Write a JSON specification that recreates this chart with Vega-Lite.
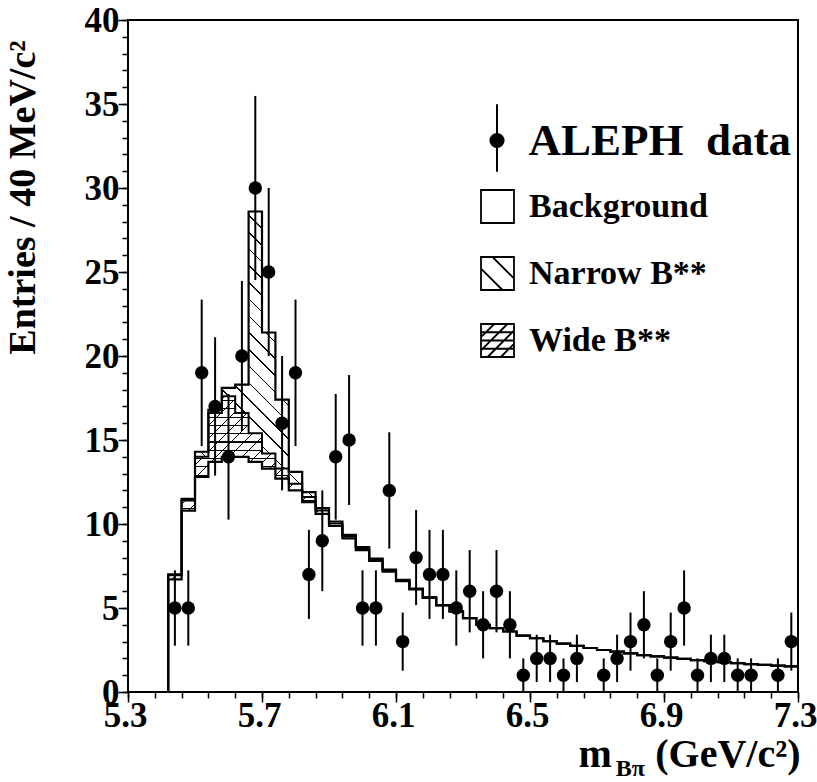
{
  "$schema": "https://vega.github.io/schema/vega-lite/v6.json",
  "width": 670,
  "height": 672,
  "autosize": {"type": "none"},
  "padding": {"left": 128, "top": 20, "right": 19, "bottom": 90},
  "background": "white",
  "config": {"view": {"stroke": "black", "strokeWidth": 2}, "font": "Liberation Serif"},
  "title": {"text": "Bπ", "orient": "bottom", "anchor": "end", "frame": "group", "offset": 0, "dx": -153, "dy": -17, "font": "Liberation Serif", "fontSize": 24, "fontWeight": "bold", "color": "black"},
  "resolve": {"scale": {"shape": "independent"}, "axis": {"x": "independent", "y": "independent"}},
  "datasets": {
    "hist": [
      {"x": 5.3, "bkg": 0, "wtop": 0, "tot": 0},
      {"x": 5.42, "bkg": 6.7, "wtop": 6.95, "tot": 7.0},
      {"x": 5.46, "bkg": 10.8, "wtop": 11.4, "tot": 11.5},
      {"x": 5.5, "bkg": 12.8, "wtop": 14.0, "tot": 14.3},
      {"x": 5.54, "bkg": 13.7, "wtop": 16.6, "tot": 16.8},
      {"x": 5.58, "bkg": 14.0, "wtop": 17.6, "tot": 18.1},
      {"x": 5.62, "bkg": 14.0, "wtop": 16.6, "tot": 18.3},
      {"x": 5.66, "bkg": 13.7, "wtop": 15.4, "tot": 28.6},
      {"x": 5.7, "bkg": 13.3, "wtop": 14.2, "tot": 21.4},
      {"x": 5.74, "bkg": 12.7, "wtop": 13.3, "tot": 17.4},
      {"x": 5.78, "bkg": 12.0, "wtop": 12.4, "tot": 13.1},
      {"x": 5.82, "bkg": 11.3, "wtop": 11.6, "tot": 11.9},
      {"x": 5.86, "bkg": 10.6, "wtop": 10.8, "tot": 10.95},
      {"x": 5.9, "bkg": 9.88, "wtop": 10.03, "tot": 10.15},
      {"x": 5.94, "bkg": 9.15, "wtop": 9.27, "tot": 9.35},
      {"x": 5.98, "bkg": 8.45, "wtop": 8.55, "tot": 8.63},
      {"x": 6.02, "bkg": 7.8, "wtop": 7.88, "tot": 7.94},
      {"x": 6.06, "bkg": 7.16, "wtop": 7.23, "tot": 7.28},
      {"x": 6.1, "bkg": 6.6, "wtop": 6.65, "tot": 6.68},
      {"x": 6.14, "bkg": 6.1, "wtop": 6.13, "tot": 6.15},
      {"x": 6.18, "bkg": 5.6, "wtop": 5.62, "tot": 5.63},
      {"x": 6.22, "bkg": 5.15, "wtop": 5.17, "tot": 5.18},
      {"x": 6.26, "bkg": 4.8, "wtop": 4.8, "tot": 4.8},
      {"x": 6.3, "bkg": 4.4, "wtop": 4.4, "tot": 4.4},
      {"x": 6.34, "bkg": 4.0, "wtop": 4.0, "tot": 4.0},
      {"x": 6.38, "bkg": 3.8, "wtop": 3.8, "tot": 3.8},
      {"x": 6.42, "bkg": 3.6, "wtop": 3.6, "tot": 3.6},
      {"x": 6.46, "bkg": 3.35, "wtop": 3.35, "tot": 3.35},
      {"x": 6.5, "bkg": 3.2, "wtop": 3.2, "tot": 3.2},
      {"x": 6.54, "bkg": 3.02, "wtop": 3.02, "tot": 3.02},
      {"x": 6.58, "bkg": 2.88, "wtop": 2.88, "tot": 2.88},
      {"x": 6.62, "bkg": 2.75, "wtop": 2.75, "tot": 2.75},
      {"x": 6.66, "bkg": 2.62, "wtop": 2.62, "tot": 2.62},
      {"x": 6.7, "bkg": 2.5, "wtop": 2.5, "tot": 2.5},
      {"x": 6.74, "bkg": 2.4, "wtop": 2.4, "tot": 2.4},
      {"x": 6.78, "bkg": 2.3, "wtop": 2.3, "tot": 2.3},
      {"x": 6.82, "bkg": 2.2, "wtop": 2.2, "tot": 2.2},
      {"x": 6.86, "bkg": 2.12, "wtop": 2.12, "tot": 2.12},
      {"x": 6.9, "bkg": 2.05, "wtop": 2.05, "tot": 2.05},
      {"x": 6.94, "bkg": 1.97, "wtop": 1.97, "tot": 1.97},
      {"x": 6.98, "bkg": 1.9, "wtop": 1.9, "tot": 1.9},
      {"x": 7.02, "bkg": 1.84, "wtop": 1.84, "tot": 1.84},
      {"x": 7.06, "bkg": 1.78, "wtop": 1.78, "tot": 1.78},
      {"x": 7.1, "bkg": 1.72, "wtop": 1.72, "tot": 1.72},
      {"x": 7.14, "bkg": 1.66, "wtop": 1.66, "tot": 1.66},
      {"x": 7.18, "bkg": 1.61, "wtop": 1.61, "tot": 1.61},
      {"x": 7.22, "bkg": 1.57, "wtop": 1.57, "tot": 1.57},
      {"x": 7.26, "bkg": 1.53, "wtop": 1.53, "tot": 1.53},
      {"x": 7.3, "bkg": 1.53, "wtop": 1.53, "tot": 1.53}
    ],
    "pts": [
      {"m": 5.44, "n": 5, "lo": 2.76, "hi": 7.24},
      {"m": 5.48, "n": 5, "lo": 2.76, "hi": 7.24},
      {"m": 5.52, "n": 19, "lo": 14.64, "hi": 23.36},
      {"m": 5.56, "n": 17, "lo": 12.88, "hi": 21.12},
      {"m": 5.6, "n": 14, "lo": 10.26, "hi": 17.74},
      {"m": 5.64, "n": 20, "lo": 15.53, "hi": 24.47},
      {"m": 5.68, "n": 30, "lo": 24.52, "hi": 35.48},
      {"m": 5.72, "n": 25, "lo": 20, "hi": 30},
      {"m": 5.76, "n": 16, "lo": 12, "hi": 20},
      {"m": 5.8, "n": 19, "lo": 14.64, "hi": 23.36},
      {"m": 5.84, "n": 7, "lo": 4.35, "hi": 9.65},
      {"m": 5.88, "n": 9, "lo": 6, "hi": 12},
      {"m": 5.92, "n": 14, "lo": 10.26, "hi": 17.74},
      {"m": 5.96, "n": 15, "lo": 11.13, "hi": 18.87},
      {"m": 6.0, "n": 5, "lo": 2.76, "hi": 7.24},
      {"m": 6.04, "n": 5, "lo": 2.76, "hi": 7.24},
      {"m": 6.08, "n": 12, "lo": 8.54, "hi": 15.46},
      {"m": 6.12, "n": 3, "lo": 1.27, "hi": 4.73},
      {"m": 6.16, "n": 8, "lo": 5.17, "hi": 10.83},
      {"m": 6.2, "n": 7, "lo": 4.35, "hi": 9.65},
      {"m": 6.24, "n": 7, "lo": 4.35, "hi": 9.65},
      {"m": 6.28, "n": 5, "lo": 2.76, "hi": 7.24},
      {"m": 6.32, "n": 6, "lo": 3.55, "hi": 8.45},
      {"m": 6.36, "n": 4, "lo": 2, "hi": 6},
      {"m": 6.4, "n": 6, "lo": 3.55, "hi": 8.45},
      {"m": 6.44, "n": 4, "lo": 2, "hi": 6},
      {"m": 6.48, "n": 1, "lo": 0, "hi": 2},
      {"m": 6.52, "n": 2, "lo": 0.59, "hi": 3.41},
      {"m": 6.56, "n": 2, "lo": 0.59, "hi": 3.41},
      {"m": 6.6, "n": 1, "lo": 0, "hi": 2},
      {"m": 6.64, "n": 2, "lo": 0.59, "hi": 3.41},
      {"m": 6.72, "n": 1, "lo": 0, "hi": 2},
      {"m": 6.76, "n": 2, "lo": 0.59, "hi": 3.41},
      {"m": 6.8, "n": 3, "lo": 1.27, "hi": 4.73},
      {"m": 6.84, "n": 4, "lo": 2, "hi": 6},
      {"m": 6.88, "n": 1, "lo": 0, "hi": 2},
      {"m": 6.92, "n": 3, "lo": 1.27, "hi": 4.73},
      {"m": 6.96, "n": 5, "lo": 2.76, "hi": 7.24},
      {"m": 7.0, "n": 1, "lo": 0, "hi": 2},
      {"m": 7.04, "n": 2, "lo": 0.59, "hi": 3.41},
      {"m": 7.08, "n": 2, "lo": 0.59, "hi": 3.41},
      {"m": 7.12, "n": 1, "lo": 0, "hi": 2},
      {"m": 7.16, "n": 1, "lo": 0, "hi": 2},
      {"m": 7.24, "n": 1, "lo": 0, "hi": 2},
      {"m": 7.28, "n": 3, "lo": 1.27, "hi": 4.73}
    ]
  },
  "layer": [
    {
      "data": {"name": "hist"},
      "transform": [{"filter": "datum.x >= 5.42 && datum.x <= 5.9"}],
      "mark": {"type": "area", "interpolate": "step-after", "opacity": 1, "fillOpacity": 1,
        "fill": {"gradient": "linear", "x1": 0, "y1": 1, "x2": 1, "y2": -1.262, "stops": [
          {"offset": 0.005, "color": "#fff"}, {"offset": 0.005, "color": "#000"}, {"offset": 0.0066, "color": "#000"}, {"offset": 0.0066, "color": "#fff"},
          {"offset": 0.022, "color": "#fff"}, {"offset": 0.022, "color": "#000"}, {"offset": 0.0236, "color": "#000"}, {"offset": 0.0236, "color": "#fff"},
          {"offset": 0.039, "color": "#fff"}, {"offset": 0.039, "color": "#000"}, {"offset": 0.0406, "color": "#000"}, {"offset": 0.0406, "color": "#fff"},
          {"offset": 0.056, "color": "#fff"}, {"offset": 0.056, "color": "#000"}, {"offset": 0.0576, "color": "#000"}, {"offset": 0.0576, "color": "#fff"},
          {"offset": 0.073, "color": "#fff"}, {"offset": 0.073, "color": "#000"}, {"offset": 0.0746, "color": "#000"}, {"offset": 0.0746, "color": "#fff"},
          {"offset": 0.09, "color": "#fff"}, {"offset": 0.09, "color": "#000"}, {"offset": 0.0916, "color": "#000"}, {"offset": 0.0916, "color": "#fff"},
          {"offset": 0.107, "color": "#fff"}, {"offset": 0.107, "color": "#000"}, {"offset": 0.1086, "color": "#000"}, {"offset": 0.1086, "color": "#fff"},
          {"offset": 0.124, "color": "#fff"}, {"offset": 0.124, "color": "#000"}, {"offset": 0.1256, "color": "#000"}, {"offset": 0.1256, "color": "#fff"},
          {"offset": 0.141, "color": "#fff"}, {"offset": 0.141, "color": "#000"}, {"offset": 0.1426, "color": "#000"}, {"offset": 0.1426, "color": "#fff"},
          {"offset": 0.158, "color": "#fff"}, {"offset": 0.158, "color": "#000"}, {"offset": 0.1596, "color": "#000"}, {"offset": 0.1596, "color": "#fff"},
          {"offset": 0.175, "color": "#fff"}, {"offset": 0.175, "color": "#000"}, {"offset": 0.1766, "color": "#000"}, {"offset": 0.1766, "color": "#fff"},
          {"offset": 0.192, "color": "#fff"}, {"offset": 0.192, "color": "#000"}, {"offset": 0.1936, "color": "#000"}, {"offset": 0.1936, "color": "#fff"},
          {"offset": 0.209, "color": "#fff"}, {"offset": 0.209, "color": "#000"}, {"offset": 0.2106, "color": "#000"}, {"offset": 0.2106, "color": "#fff"},
          {"offset": 0.226, "color": "#fff"}, {"offset": 0.226, "color": "#000"}, {"offset": 0.2276, "color": "#000"}, {"offset": 0.2276, "color": "#fff"},
          {"offset": 0.243, "color": "#fff"}, {"offset": 0.243, "color": "#000"}, {"offset": 0.2446, "color": "#000"}, {"offset": 0.2446, "color": "#fff"},
          {"offset": 0.26, "color": "#fff"}, {"offset": 0.26, "color": "#000"}, {"offset": 0.2616, "color": "#000"}, {"offset": 0.2616, "color": "#fff"},
          {"offset": 0.277, "color": "#fff"}, {"offset": 0.277, "color": "#000"}, {"offset": 0.2786, "color": "#000"}, {"offset": 0.2786, "color": "#fff"},
          {"offset": 0.294, "color": "#fff"}, {"offset": 0.294, "color": "#000"}, {"offset": 0.2956, "color": "#000"}, {"offset": 0.2956, "color": "#fff"},
          {"offset": 0.311, "color": "#fff"}, {"offset": 0.311, "color": "#000"}, {"offset": 0.3126, "color": "#000"}, {"offset": 0.3126, "color": "#fff"},
          {"offset": 0.328, "color": "#fff"}, {"offset": 0.328, "color": "#000"}, {"offset": 0.3296, "color": "#000"}, {"offset": 0.3296, "color": "#fff"},
          {"offset": 0.345, "color": "#fff"}, {"offset": 0.345, "color": "#000"}, {"offset": 0.3466, "color": "#000"}, {"offset": 0.3466, "color": "#fff"},
          {"offset": 0.362, "color": "#fff"}, {"offset": 0.362, "color": "#000"}, {"offset": 0.3636, "color": "#000"}, {"offset": 0.3636, "color": "#fff"},
          {"offset": 0.379, "color": "#fff"}, {"offset": 0.379, "color": "#000"}, {"offset": 0.3806, "color": "#000"}, {"offset": 0.3806, "color": "#fff"},
          {"offset": 0.396, "color": "#fff"}, {"offset": 0.396, "color": "#000"}, {"offset": 0.3976, "color": "#000"}, {"offset": 0.3976, "color": "#fff"},
          {"offset": 0.413, "color": "#fff"}, {"offset": 0.413, "color": "#000"}, {"offset": 0.4146, "color": "#000"}, {"offset": 0.4146, "color": "#fff"},
          {"offset": 0.43, "color": "#fff"}, {"offset": 0.43, "color": "#000"}, {"offset": 0.4316, "color": "#000"}, {"offset": 0.4316, "color": "#fff"},
          {"offset": 0.447, "color": "#fff"}, {"offset": 0.447, "color": "#000"}, {"offset": 0.4486, "color": "#000"}, {"offset": 0.4486, "color": "#fff"},
          {"offset": 0.464, "color": "#fff"}, {"offset": 0.464, "color": "#000"}, {"offset": 0.4656, "color": "#000"}, {"offset": 0.4656, "color": "#fff"},
          {"offset": 0.481, "color": "#fff"}, {"offset": 0.481, "color": "#000"}, {"offset": 0.4826, "color": "#000"}, {"offset": 0.4826, "color": "#fff"},
          {"offset": 0.498, "color": "#fff"}, {"offset": 0.498, "color": "#000"}, {"offset": 0.4996, "color": "#000"}, {"offset": 0.4996, "color": "#fff"},
          {"offset": 0.515, "color": "#fff"}, {"offset": 0.515, "color": "#000"}, {"offset": 0.5166, "color": "#000"}, {"offset": 0.5166, "color": "#fff"},
          {"offset": 0.532, "color": "#fff"}, {"offset": 0.532, "color": "#000"}, {"offset": 0.5336, "color": "#000"}, {"offset": 0.5336, "color": "#fff"}
        ]}},
      "encoding": {
        "x": {"field": "x", "type": "quantitative", "scale": {"domain": [5.3, 7.3], "nice": false, "zero": false},
          "axis": {
            "orient": "bottom",
            "values": [5.3, 5.7, 6.1, 6.5, 6.9, 7.3], "format": ".1f",
            "tickSize": 10, "tickColor": "black", "tickWidth": 1.5,
            "domain": false, "grid": false,
            "labelFont": "Liberation Serif", "labelFontWeight": "bold", "labelFontSize": 35, "labelColor": "black",
            "labelPadding": -4, "labelOffset": -3, "labelFlush": false, "labelOverlap": false, "labelBaseline": "top",
            "title": "(GeV/c²)", "titleFont": "Liberation Serif", "titleFontSize": 40, "titleFontWeight": "bold", "titleColor": "black",
            "titleX": 672, "titleY": 74, "titleAlign": "right", "titleBaseline": "alphabetic"
          }},
        "y": {"field": "tot", "type": "quantitative", "scale": {"domain": [0, 40], "nice": false},
          "axis": {
            "orient": "left",
            "values": [0, 5, 10, 15, 20, 25, 30, 35, 40],
            "tickSize": 10, "tickColor": "black", "tickWidth": 1.5,
            "domain": false, "grid": false,
            "labelFont": "Liberation Serif", "labelFontWeight": "bold", "labelFontSize": 35, "labelColor": "black",
            "labelPadding": -1, "labelFlush": false, "labelOverlap": false,
            "title": "Entries / 40 MeV/c²", "titleFont": "Liberation Serif", "titleFontSize": 38, "titleFontWeight": "bold", "titleColor": "black",
            "titleX": -105, "titleY": 177, "titleAngle": -90, "titleAlign": "center", "titleBaseline": "middle"
          }},
        "y2": {"field": "wtop"}
      }
    },
    {
      "data": {"name": "hist"},
      "transform": [{"filter": "datum.x >= 5.42 && datum.x <= 5.9"}],
      "mark": {"type": "area", "interpolate": "step-after", "opacity": 1, "fillOpacity": 1,
        "fill": {"gradient": "linear", "x1": 0, "y1": 0, "x2": 1, "y2": 1.1387, "stops": [
          {"offset": 0.01, "color": "#fff"}, {"offset": 0.01, "color": "#000"}, {"offset": 0.0138, "color": "#000"}, {"offset": 0.0138, "color": "#fff"},
          {"offset": 0.0452, "color": "#fff"}, {"offset": 0.0452, "color": "#000"}, {"offset": 0.049, "color": "#000"}, {"offset": 0.049, "color": "#fff"},
          {"offset": 0.0804, "color": "#fff"}, {"offset": 0.0804, "color": "#000"}, {"offset": 0.0842, "color": "#000"}, {"offset": 0.0842, "color": "#fff"},
          {"offset": 0.1156, "color": "#fff"}, {"offset": 0.1156, "color": "#000"}, {"offset": 0.1194, "color": "#000"}, {"offset": 0.1194, "color": "#fff"},
          {"offset": 0.1508, "color": "#fff"}, {"offset": 0.1508, "color": "#000"}, {"offset": 0.1546, "color": "#000"}, {"offset": 0.1546, "color": "#fff"},
          {"offset": 0.186, "color": "#fff"}, {"offset": 0.186, "color": "#000"}, {"offset": 0.1898, "color": "#000"}, {"offset": 0.1898, "color": "#fff"},
          {"offset": 0.2212, "color": "#fff"}, {"offset": 0.2212, "color": "#000"}, {"offset": 0.225, "color": "#000"}, {"offset": 0.225, "color": "#fff"},
          {"offset": 0.2564, "color": "#fff"}, {"offset": 0.2564, "color": "#000"}, {"offset": 0.2602, "color": "#000"}, {"offset": 0.2602, "color": "#fff"},
          {"offset": 0.2916, "color": "#fff"}, {"offset": 0.2916, "color": "#000"}, {"offset": 0.2954, "color": "#000"}, {"offset": 0.2954, "color": "#fff"},
          {"offset": 0.3268, "color": "#fff"}, {"offset": 0.3268, "color": "#000"}, {"offset": 0.3306, "color": "#000"}, {"offset": 0.3306, "color": "#fff"},
          {"offset": 0.362, "color": "#fff"}, {"offset": 0.362, "color": "#000"}, {"offset": 0.3658, "color": "#000"}, {"offset": 0.3658, "color": "#fff"},
          {"offset": 0.3972, "color": "#fff"}, {"offset": 0.3972, "color": "#000"}, {"offset": 0.401, "color": "#000"}, {"offset": 0.401, "color": "#fff"},
          {"offset": 0.4324, "color": "#fff"}, {"offset": 0.4324, "color": "#000"}, {"offset": 0.4362, "color": "#000"}, {"offset": 0.4362, "color": "#fff"},
          {"offset": 0.4676, "color": "#fff"}, {"offset": 0.4676, "color": "#000"}, {"offset": 0.4714, "color": "#000"}, {"offset": 0.4714, "color": "#fff"},
          {"offset": 0.5028, "color": "#fff"}, {"offset": 0.5028, "color": "#000"}, {"offset": 0.5066, "color": "#000"}, {"offset": 0.5066, "color": "#fff"},
          {"offset": 0.538, "color": "#fff"}, {"offset": 0.538, "color": "#000"}, {"offset": 0.5418, "color": "#000"}, {"offset": 0.5418, "color": "#fff"},
          {"offset": 0.5732, "color": "#fff"}, {"offset": 0.5732, "color": "#000"}, {"offset": 0.577, "color": "#000"}, {"offset": 0.577, "color": "#fff"},
          {"offset": 0.6084, "color": "#fff"}, {"offset": 0.6084, "color": "#000"}, {"offset": 0.6122, "color": "#000"}, {"offset": 0.6122, "color": "#fff"},
          {"offset": 0.6436, "color": "#fff"}, {"offset": 0.6436, "color": "#000"}, {"offset": 0.6474, "color": "#000"}, {"offset": 0.6474, "color": "#fff"},
          {"offset": 0.6788, "color": "#fff"}, {"offset": 0.6788, "color": "#000"}, {"offset": 0.6826, "color": "#000"}, {"offset": 0.6826, "color": "#fff"},
          {"offset": 0.714, "color": "#fff"}, {"offset": 0.714, "color": "#000"}, {"offset": 0.7178, "color": "#000"}, {"offset": 0.7178, "color": "#fff"},
          {"offset": 0.7492, "color": "#fff"}, {"offset": 0.7492, "color": "#000"}, {"offset": 0.753, "color": "#000"}, {"offset": 0.753, "color": "#fff"},
          {"offset": 0.7844, "color": "#fff"}, {"offset": 0.7844, "color": "#000"}, {"offset": 0.7882, "color": "#000"}, {"offset": 0.7882, "color": "#fff"},
          {"offset": 0.8196, "color": "#fff"}, {"offset": 0.8196, "color": "#000"}, {"offset": 0.8234, "color": "#000"}, {"offset": 0.8234, "color": "#fff"},
          {"offset": 0.8548, "color": "#fff"}, {"offset": 0.8548, "color": "#000"}, {"offset": 0.8586, "color": "#000"}, {"offset": 0.8586, "color": "#fff"},
          {"offset": 0.89, "color": "#fff"}, {"offset": 0.89, "color": "#000"}, {"offset": 0.8938, "color": "#000"}, {"offset": 0.8938, "color": "#fff"},
          {"offset": 0.9252, "color": "#fff"}, {"offset": 0.9252, "color": "#000"}, {"offset": 0.929, "color": "#000"}, {"offset": 0.929, "color": "#fff"}
        ]}},
      "encoding": {
        "x": {"field": "x", "type": "quantitative",
          "axis": {
            "orient": "bottom",
            "values": [5.3, 5.38, 5.46, 5.54, 5.62, 5.7, 5.78, 5.86, 5.94, 6.02, 6.1, 6.18, 6.26, 6.34, 6.42, 6.5, 6.58, 6.66, 6.74, 6.82, 6.9, 6.98, 7.06, 7.14, 7.22, 7.3],
            "labels": false, "tickSize": 6, "tickColor": "black", "tickWidth": 1.5,
            "domain": false, "grid": false,
            "title": "m", "titleFont": "Liberation Serif", "titleFontSize": 40, "titleFontWeight": "bold", "titleColor": "black",
            "titleX": 450, "titleY": 74, "titleAlign": "left", "titleBaseline": "alphabetic"
          }},
        "y": {"field": "wtop", "type": "quantitative",
          "axis": {
            "orient": "left",
            "values": [0,1,2,3,4,5,6,7,8,9,10,11,12,13,14,15,16,17,18,19,20,21,22,23,24,25,26,27,28,29,30,31,32,33,34,35,36,37,38,39,40],
            "labels": false, "tickSize": 6, "tickColor": "black", "tickWidth": 1.5,
            "domain": false, "grid": false, "title": null
          }},
        "y2": {"field": "bkg"}
      }
    },
    {
      "data": {"name": "hist"},
      "transform": [{"filter": "datum.x >= 5.42 && datum.x <= 5.9"}],
      "mark": {"type": "area", "interpolate": "step-after", "opacity": 1, "fillOpacity": 1,
        "fill": {"gradient": "linear", "x1": 0, "y1": 0, "x2": 0, "y2": 1, "stops": [
          {"offset": 0.02, "color": "rgba(0,0,0,0)"}, {"offset": 0.02, "color": "#000"}, {"offset": 0.026, "color": "#000"}, {"offset": 0.026, "color": "rgba(0,0,0,0)"},
          {"offset": 0.0653, "color": "rgba(0,0,0,0)"}, {"offset": 0.0653, "color": "#000"}, {"offset": 0.0713, "color": "#000"}, {"offset": 0.0713, "color": "rgba(0,0,0,0)"},
          {"offset": 0.1106, "color": "rgba(0,0,0,0)"}, {"offset": 0.1106, "color": "#000"}, {"offset": 0.1166, "color": "#000"}, {"offset": 0.1166, "color": "rgba(0,0,0,0)"},
          {"offset": 0.1559, "color": "rgba(0,0,0,0)"}, {"offset": 0.1559, "color": "#000"}, {"offset": 0.1619, "color": "#000"}, {"offset": 0.1619, "color": "rgba(0,0,0,0)"},
          {"offset": 0.2012, "color": "rgba(0,0,0,0)"}, {"offset": 0.2012, "color": "#000"}, {"offset": 0.2072, "color": "#000"}, {"offset": 0.2072, "color": "rgba(0,0,0,0)"},
          {"offset": 0.2465, "color": "rgba(0,0,0,0)"}, {"offset": 0.2465, "color": "#000"}, {"offset": 0.2525, "color": "#000"}, {"offset": 0.2525, "color": "rgba(0,0,0,0)"},
          {"offset": 0.2918, "color": "rgba(0,0,0,0)"}, {"offset": 0.2918, "color": "#000"}, {"offset": 0.2978, "color": "#000"}, {"offset": 0.2978, "color": "rgba(0,0,0,0)"},
          {"offset": 0.3371, "color": "rgba(0,0,0,0)"}, {"offset": 0.3371, "color": "#000"}, {"offset": 0.3431, "color": "#000"}, {"offset": 0.3431, "color": "rgba(0,0,0,0)"},
          {"offset": 0.3824, "color": "rgba(0,0,0,0)"}, {"offset": 0.3824, "color": "#000"}, {"offset": 0.3884, "color": "#000"}, {"offset": 0.3884, "color": "rgba(0,0,0,0)"},
          {"offset": 0.4277, "color": "rgba(0,0,0,0)"}, {"offset": 0.4277, "color": "#000"}, {"offset": 0.4337, "color": "#000"}, {"offset": 0.4337, "color": "rgba(0,0,0,0)"},
          {"offset": 0.473, "color": "rgba(0,0,0,0)"}, {"offset": 0.473, "color": "#000"}, {"offset": 0.479, "color": "#000"}, {"offset": 0.479, "color": "rgba(0,0,0,0)"},
          {"offset": 0.5183, "color": "rgba(0,0,0,0)"}, {"offset": 0.5183, "color": "#000"}, {"offset": 0.5243, "color": "#000"}, {"offset": 0.5243, "color": "rgba(0,0,0,0)"},
          {"offset": 0.5636, "color": "rgba(0,0,0,0)"}, {"offset": 0.5636, "color": "#000"}, {"offset": 0.5696, "color": "#000"}, {"offset": 0.5696, "color": "rgba(0,0,0,0)"},
          {"offset": 0.6089, "color": "rgba(0,0,0,0)"}, {"offset": 0.6089, "color": "#000"}, {"offset": 0.6149, "color": "#000"}, {"offset": 0.6149, "color": "rgba(0,0,0,0)"},
          {"offset": 0.6542, "color": "rgba(0,0,0,0)"}, {"offset": 0.6542, "color": "#000"}, {"offset": 0.6602, "color": "#000"}, {"offset": 0.6602, "color": "rgba(0,0,0,0)"},
          {"offset": 0.6995, "color": "rgba(0,0,0,0)"}, {"offset": 0.6995, "color": "#000"}, {"offset": 0.7055, "color": "#000"}, {"offset": 0.7055, "color": "rgba(0,0,0,0)"},
          {"offset": 0.7448, "color": "rgba(0,0,0,0)"}, {"offset": 0.7448, "color": "#000"}, {"offset": 0.7508, "color": "#000"}, {"offset": 0.7508, "color": "rgba(0,0,0,0)"},
          {"offset": 0.7901, "color": "rgba(0,0,0,0)"}, {"offset": 0.7901, "color": "#000"}, {"offset": 0.7961, "color": "#000"}, {"offset": 0.7961, "color": "rgba(0,0,0,0)"},
          {"offset": 0.8354, "color": "rgba(0,0,0,0)"}, {"offset": 0.8354, "color": "#000"}, {"offset": 0.8414, "color": "#000"}, {"offset": 0.8414, "color": "rgba(0,0,0,0)"},
          {"offset": 0.8807, "color": "rgba(0,0,0,0)"}, {"offset": 0.8807, "color": "#000"}, {"offset": 0.8867, "color": "#000"}, {"offset": 0.8867, "color": "rgba(0,0,0,0)"},
          {"offset": 0.926, "color": "rgba(0,0,0,0)"}, {"offset": 0.926, "color": "#000"}, {"offset": 0.932, "color": "#000"}, {"offset": 0.932, "color": "rgba(0,0,0,0)"},
          {"offset": 0.9713, "color": "rgba(0,0,0,0)"}, {"offset": 0.9713, "color": "#000"}, {"offset": 0.9773, "color": "#000"}, {"offset": 0.9773, "color": "rgba(0,0,0,0)"}
        ]}},
      "encoding": {
        "x": {"field": "x", "type": "quantitative", "axis": null},
        "y": {"field": "wtop", "type": "quantitative", "axis": null},
        "y2": {"field": "bkg"}
      }
    },
    {
      "data": {"name": "hist"},
      "mark": {"type": "line", "interpolate": "step-after", "color": "black", "strokeWidth": 2.2},
      "encoding": {
        "x": {"field": "x", "type": "quantitative", "axis": null},
        "y": {"field": "bkg", "type": "quantitative", "axis": null}
      }
    },
    {
      "data": {"name": "hist"},
      "transform": [{"filter": "datum.x <= 6.3"}],
      "mark": {"type": "line", "interpolate": "step-after", "color": "black", "strokeWidth": 2},
      "encoding": {
        "x": {"field": "x", "type": "quantitative", "axis": null},
        "y": {"field": "wtop", "type": "quantitative", "axis": null}
      }
    },
    {
      "data": {"name": "hist"},
      "mark": {"type": "line", "interpolate": "step-after", "color": "black", "strokeWidth": 2.2},
      "encoding": {
        "x": {"field": "x", "type": "quantitative", "axis": null},
        "y": {"field": "tot", "type": "quantitative", "axis": null}
      }
    },
    {
      "data": {"name": "pts"},
      "mark": {"type": "rule", "color": "black", "strokeWidth": 2},
      "encoding": {
        "x": {"field": "m", "type": "quantitative", "axis": null},
        "y": {"field": "lo", "type": "quantitative", "axis": null},
        "y2": {"field": "hi"}
      }
    },
    {
      "data": {"name": "pts"},
      "mark": {"type": "circle", "color": "black", "size": 180, "opacity": 1},
      "encoding": {
        "x": {"field": "m", "type": "quantitative", "axis": null},
        "y": {"field": "n", "type": "quantitative", "axis": null}
      }
    },
    {
      "data": {"values": []},
      "mark": {"type": "point", "filled": false, "color": "black", "strokeWidth": 2, "opacity": 1, "size": 1089},
      "encoding": {
        "x": {"field": "x", "type": "quantitative", "axis": null},
        "y": {"field": "y", "type": "quantitative", "axis": null},
        "shape": {"field": "s", "type": "nominal",
          "scale": {"domain": ["ALEPH\u00a0\u00a0data"],
            "range": ["M0,-2.2L0,1.9M-0.4,0A0.4,0.4,0,1,0,0.4,0A0.4,0.4,0,1,0,-0.4,0M-0.28,0A0.28,0.28,0,1,0,0.28,0A0.28,0.28,0,1,0,-0.28,0M-0.16,0A0.16,0.16,0,1,0,0.16,0A0.16,0.16,0,1,0,-0.16,0M-0.05,0A0.05,0.05,0,1,0,0.05,0A0.05,0.05,0,1,0,-0.05,0"]},
          "legend": {
            "orient": "none", "legendX": 346.5, "legendY": 98, "title": null, "padding": 0,
            "symbolSize": 1089, "symbolStrokeWidth": 2, "symbolStrokeColor": "black",
            "labelFont": "Liberation Serif", "labelFontWeight": "bold", "labelFontSize": 45, "labelColor": "black",
            "labelLimit": 400, "labelOffset": 9
          }}
      }
    },
    {
      "data": {"values": []},
      "mark": {"type": "point", "filled": false, "color": "black", "strokeWidth": 1.8, "opacity": 1, "size": 1089},
      "encoding": {
        "x": {"field": "x", "type": "quantitative", "axis": null},
        "y": {"field": "y", "type": "quantitative", "axis": null},
        "shape": {"field": "s", "type": "nominal",
          "scale": {"domain": ["Background", "Narrow B**", "Wide B**"],
            "range": [
              "M-1,-1L1,-1L1,1L-1,1Z",
              "M-1,-1L1,-1L1,1L-1,1ZM-1,-0.3L0.3,1M-0.3,-1L1,0.3",
              "M-1,-1L1,-1L1,1L-1,1ZM-1,-0.2L-0.2,-1M-1,0.6L0.6,-1M-0.6,1L1,-0.6M0.2,1L1,0.2M-1,-0.5L1,-0.5M-1,0L1,0M-1,0.5L1,0.5"
            ]},
          "legend": {
            "orient": "none", "legendX": 352, "legendY": 169, "title": null, "padding": 0,
            "symbolSize": 1089, "symbolStrokeWidth": 1.8, "symbolStrokeColor": "black",
            "labelFont": "Liberation Serif", "labelFontWeight": "bold", "labelFontSize": 34, "labelColor": "black",
            "labelLimit": 400, "labelOffset": 14, "rowPadding": 26
          }}
      }
    }
  ]
}
